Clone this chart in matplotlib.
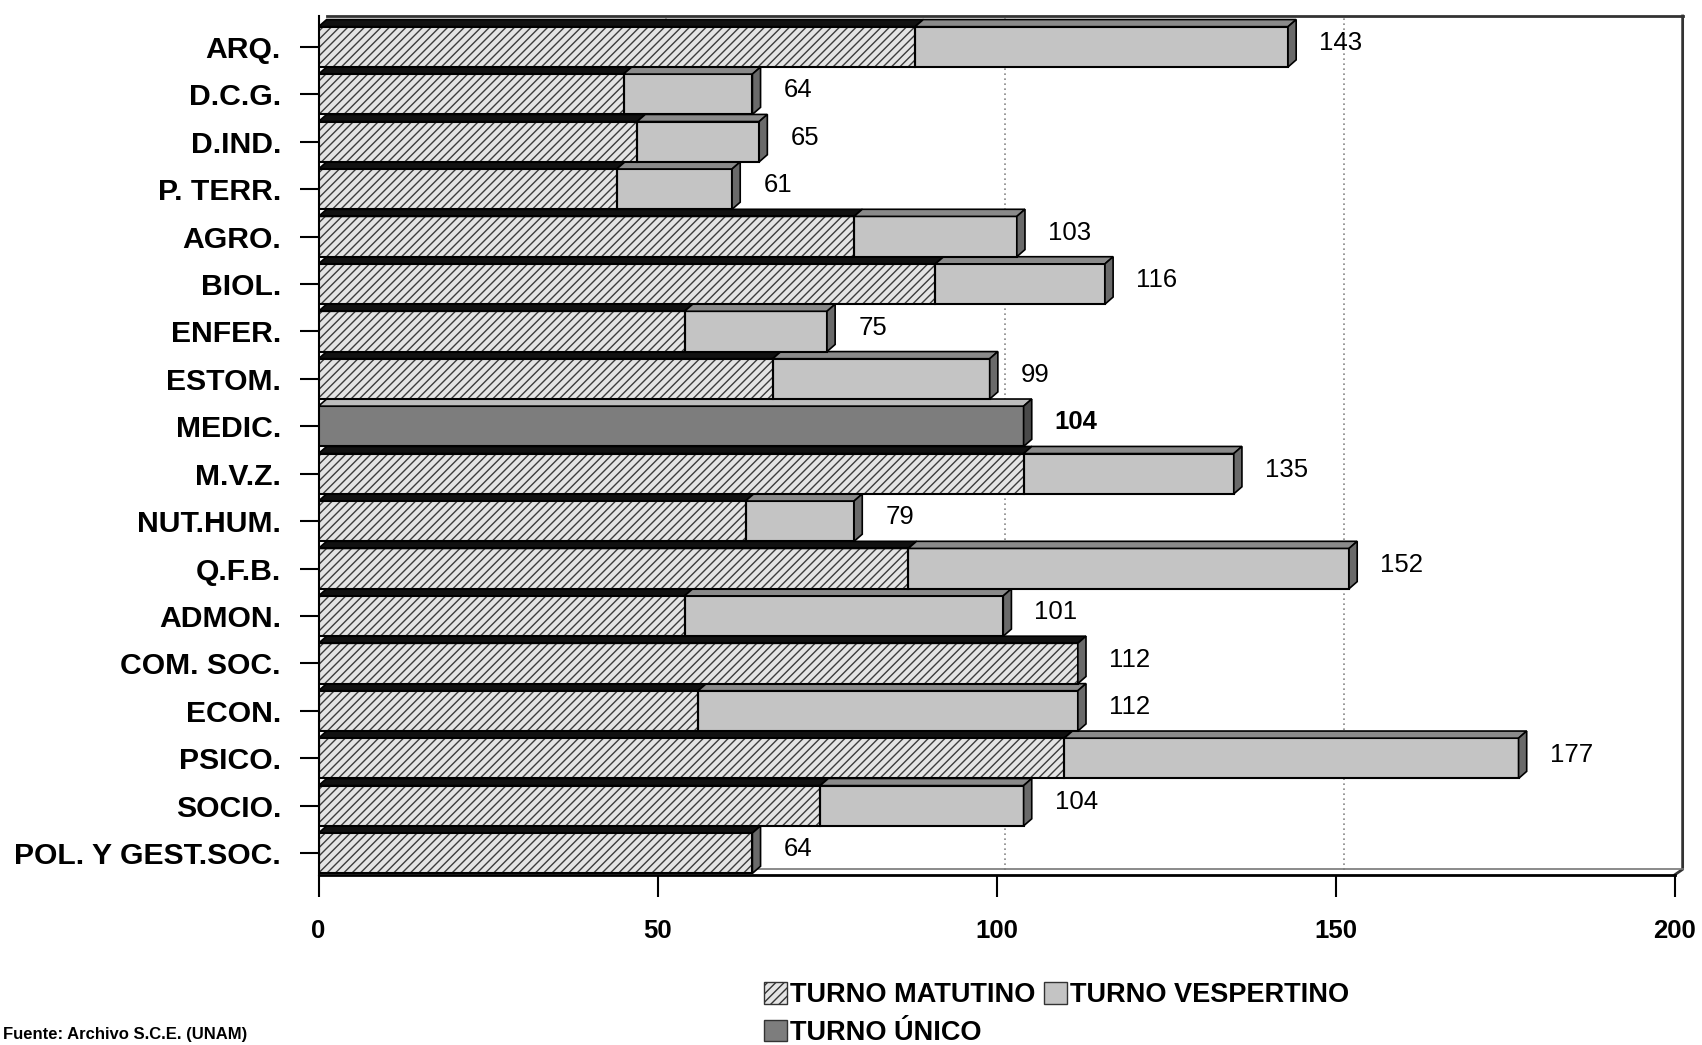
import matplotlib
matplotlib.use("Agg")
import matplotlib.pyplot as plt
from matplotlib.patches import Polygon, Rectangle, Patch

plt.rcParams["font.family"] = ["Liberation Sans", "DejaVu Sans"]
plt.rcParams["hatch.linewidth"] = 1.0

# datos por carrera (de arriba hacia abajo)
CARRERAS = ["ARQ.", "D.C.G.", "D.IND.", "P. TERR.", "AGRO.", "BIOL.", "ENFER.",
            "ESTOM.", "MEDIC.", "M.V.Z.", "NUT.HUM.", "Q.F.B.", "ADMON.",
            "COM. SOC.", "ECON.", "PSICO.", "SOCIO.", "POL. Y GEST.SOC."]
MATUTINO = [88, 45, 47, 44, 79, 91, 54, 67, 0, 104, 63, 87, 54, 112, 56, 110, 74, 64]
VESPERTINO = [55, 19, 18, 17, 24, 25, 21, 32, 0, 31, 16, 65, 47, 0, 56, 67, 30, 0]
UNICO = [0, 0, 0, 0, 0, 0, 0, 0, 104, 0, 0, 0, 0, 0, 0, 0, 0, 0]
X_TICKS = [0, 50, 100, 150, 200]

# estilo 3D falso
H = 0.85      # alto de la cara frontal
DX = 1.2      # profundidad en x (unidades de datos)
DY = 0.15     # profundidad en y (categorías)
Y_TOP, Y_BOT = -0.65, 17.46

# (cara frontal, cara superior, cara lateral, hatch)
ESTILOS = {
    "mat": ("#e4e4e4", "#111111", "#6a6a6a", "////"),
    "ves": ("#c4c4c4", "#8a8a8a", "#6a6a6a", None),
    "uni": ("#7d7d7d", "#bdbdbd", "#4a4a4a", None),
}


def barra_3d(ax, y, x0, x1, tipo, lado, z):
    front, top, side, hatch = ESTILOS[tipo]
    yt, yb = y - H / 2, y + H / 2
    if hatch:
        ax.add_patch(Rectangle((x0, yt), x1 - x0, H, facecolor=front,
                               edgecolor="#3c3c3c", hatch=hatch, lw=0, zorder=z))
        ax.add_patch(Rectangle((x0, yt), x1 - x0, H, fill=False,
                               edgecolor="black", lw=1.5, zorder=z + 0.01))
    else:
        ax.add_patch(Rectangle((x0, yt), x1 - x0, H, facecolor=front,
                               edgecolor="black", lw=1.5, zorder=z))
    ax.add_patch(Polygon([(x0, yt), (x1, yt), (x1 + DX, yt - DY), (x0 + DX, yt - DY)],
                         closed=True, facecolor=top, edgecolor="black", lw=1.2, zorder=z))
    if lado:
        ax.add_patch(Polygon([(x1, yt), (x1 + DX, yt - DY), (x1 + DX, yb - DY), (x1, yb)],
                             closed=True, facecolor=side, edgecolor="black", lw=1.2,
                             zorder=z + 0.02))


fig = plt.figure(figsize=(17.02, 10.45), dpi=100)
ax = fig.add_axes([318.5 / 1702, 1 - 875 / 1045, 201.5 * 6.78 / 1702, (875 - 16) / 1045])
ax.set_xlim(0, 201.5)
ax.set_ylim(Y_BOT, Y_TOP)

# pared del fondo: rejilla punteada y marco
for xv in X_TICKS[1:-1]:
    ax.plot([xv + DX, xv + DX], [Y_BOT - 0.1, Y_TOP], ls=(0, (1, 2)), color="#888888",
            lw=1.2, zorder=1)
ax.plot([DX, 200 + DX], [Y_TOP, Y_TOP], color="#333333", lw=2, zorder=1, clip_on=False)
ax.plot([200 + DX, 200 + DX, 200], [Y_TOP, Y_BOT - 0.12, Y_BOT], color="#333333", lw=2,
        zorder=1, clip_on=False)
ax.plot([DX, 200 + DX], [Y_BOT - 0.12, Y_BOT - 0.12], color="#777777", lw=1.2, zorder=1)

n = len(CARRERAS)
for i in range(n):
    z = 2 + (n - i) * 0.1
    m, v, u = MATUTINO[i], VESPERTINO[i], UNICO[i]
    total = m + v + u
    if u:
        barra_3d(ax, i, 0, u, "uni", True, z)
    else:
        if m:
            barra_3d(ax, i, 0, m, "mat", v == 0, z)
        if v:
            barra_3d(ax, i, m, m + v, "ves", True, z)
    ax.text(total + 4.6, i - 0.08, str(total), fontsize=18.5,
            fontweight="bold" if u else "normal", ha="left", va="center", zorder=10)

ax.set_yticks(range(n))
ax.set_yticklabels(CARRERAS, fontsize=21.7, fontweight="bold")
ax.set_xticks(X_TICKS)
ax.set_xticklabels([str(t) for t in X_TICKS], fontsize=18.5, fontweight="bold")
ax.tick_params(axis="y", length=14, width=1.5, pad=13)
ax.tick_params(axis="x", length=16, width=1.5, pad=16)
for s in ("top", "right"):
    ax.spines[s].set_visible(False)
ax.spines["left"].set_linewidth(1.5)
ax.spines["bottom"].set_linewidth(2)
ax.spines["bottom"].set_bounds(0, 200)

handles = [
    Patch(facecolor="#e4e4e4", edgecolor="#333333", hatch="////", label="TURNO MATUTINO"),
    Patch(facecolor="#7d7d7d", edgecolor="#333333", label="TURNO ÚNICO"),
    Patch(facecolor="#c4c4c4", edgecolor="#333333", label="TURNO VESPERTINO"),
]
fig.legend(handles=handles, loc="upper left", bbox_to_anchor=(764 / 1702, 1 - 982 / 1045),
           ncol=2, frameon=False, prop={"size": 19.5, "weight": "bold"},
           handlelength=0.85, handleheight=0.85, handletextpad=0.12, columnspacing=0.3,
           labelspacing=0.42, borderpad=0, borderaxespad=0)

fig.text(0.002, 0.003, "Fuente: Archivo S.C.E. (UNAM)", fontsize=12,
         fontweight="bold", ha="left", va="bottom")

fig.savefig("out.png", dpi=100)
